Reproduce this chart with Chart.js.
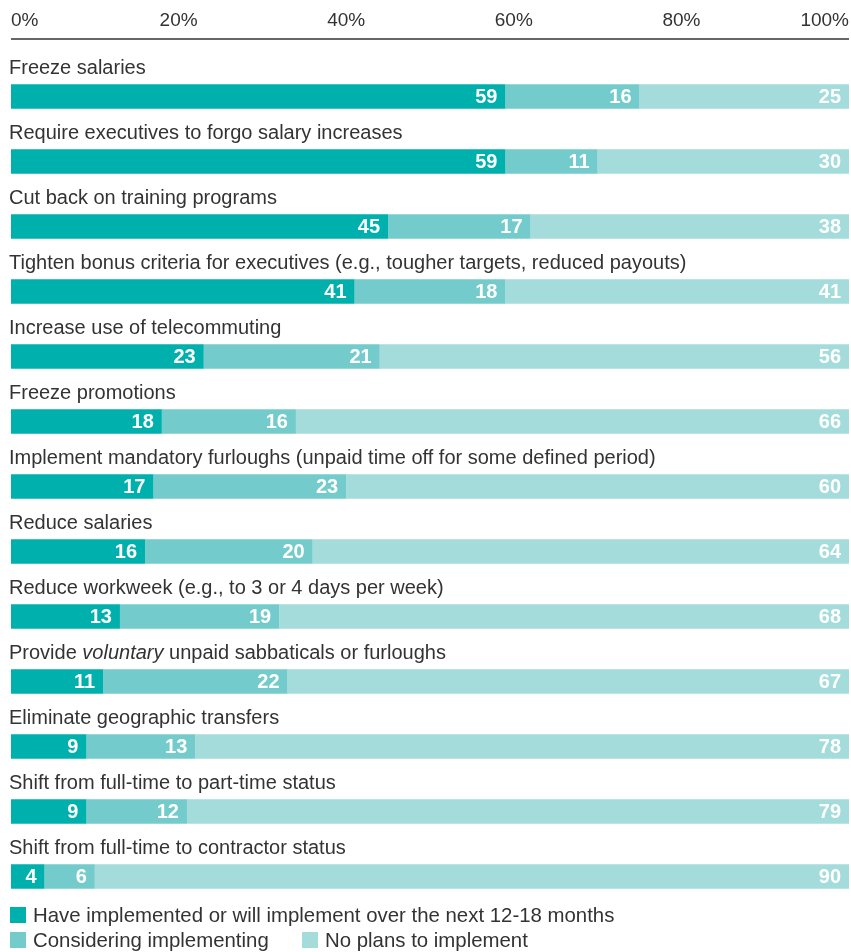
<!DOCTYPE html>
<html>
<head>
<meta charset="utf-8">
<script src="https://cdn.jsdelivr.net/npm/chart.js@4.4.0/dist/chart.umd.min.js"></script>
<style>
  html, body { margin: 0; padding: 0; background: #ffffff; }
  #wrap { width: 851px; height: 952px; position: relative; }
</style>
</head>
<body>
<div id="wrap"><canvas id="c" width="851" height="952"></canvas></div>
<script>
// ---- Data ----
const categories = [
  "Freeze salaries",
  "Require executives to forgo salary increases",
  "Cut back on training programs",
  "Tighten bonus criteria for executives (e.g., tougher targets, reduced payouts)",
  "Increase use of telecommuting",
  "Freeze promotions",
  "Implement mandatory furloughs (unpaid time off for some defined period)",
  "Reduce salaries",
  "Reduce workweek (e.g., to 3 or 4 days per week)",
  "Provide *voluntary* unpaid sabbaticals or furloughs",
  "Eliminate geographic transfers",
  "Shift from full-time to part-time status",
  "Shift from full-time to contractor status"
];
const seriesNames = [
  "Have implemented or will implement over the next 12-18 months",
  "Considering implementing",
  "No plans to implement"
];
const implemented = [59, 59, 45, 41, 23, 18, 17, 16, 13, 11, 9, 9, 4];
const considering = [16, 11, 17, 18, 21, 16, 23, 20, 19, 22, 13, 12, 6];
const noPlans     = [25, 30, 38, 41, 56, 66, 60, 64, 68, 67, 78, 79, 90];
const tickValues  = [0, 20, 40, 60, 80, 100];

const colors = ["#00b0ac", "#74cbcb", "#a4dcdb"];
const FONT = "'Liberation Sans', Arial, sans-serif";

// Category labels above bars (supports *italic* segments)
const categoryLabelPlugin = {
  id: 'catLabels',
  afterDatasetsDraw(chart) {
    const ctx = chart.ctx;
    const meta = chart.getDatasetMeta(0);
    ctx.save();
    ctx.fillStyle = '#333333';
    ctx.textBaseline = 'alphabetic';
    ctx.textAlign = 'left';
    meta.data.forEach((bar, i) => {
      const top = bar.y - bar.height / 2;
      let x = chart.chartArea.left - 2;
      const y = top - 10;
      const parts = categories[i].split('*');
      parts.forEach((p, k) => {
        ctx.font = (k % 2 === 1 ? 'italic ' : '') + '20px ' + FONT;
        ctx.fillText(p, x, y);
        x += ctx.measureText(p).width;
      });
    });
    ctx.restore();
  }
};

// Value labels inside segments
const valueLabelPlugin = {
  id: 'valLabels',
  afterDatasetsDraw(chart) {
    const ctx = chart.ctx;
    ctx.save();
    ctx.fillStyle = '#ffffff';
    ctx.font = 'bold 20px ' + FONT;
    ctx.textAlign = 'right';
    ctx.textBaseline = 'middle';
    chart.data.datasets.forEach((ds, di) => {
      const meta = chart.getDatasetMeta(di);
      meta.data.forEach((bar, i) => {
        ctx.fillText(String(ds.data[i]), bar.x - 8, bar.y + 1);
      });
    });
    ctx.restore();
  }
};

// Top axis rule
const axisLinePlugin = {
  id: 'axisLine',
  afterDraw(chart) {
    const ctx = chart.ctx;
    const xs = chart.scales.x;
    ctx.save();
    ctx.strokeStyle = '#666666';
    ctx.lineWidth = 2;
    ctx.beginPath();
    const y = xs.bottom - 25;
    ctx.moveTo(xs.left, y);
    ctx.lineTo(xs.right, y);
    ctx.stroke();
    ctx.restore();
  }
};

// Custom legend
const legendPlugin = {
  id: 'customLegend',
  afterDraw(chart) {
    const ctx = chart.ctx;
    const left = chart.chartArea.left - 1;
    const base = chart.chartArea.bottom;
    const positions = [
      { x: left, y: base + 6 },
      { x: left, y: base + 31 },
      { x: left + 292, y: base + 31 }
    ];
    ctx.save();
    ctx.font = '20.4px ' + FONT;
    ctx.textBaseline = 'middle';
    ctx.textAlign = 'left';
    chart.data.datasets.forEach((ds, di) => {
      const p = positions[di];
      ctx.fillStyle = ds.backgroundColor;
      ctx.fillRect(p.x, p.y - 8, 16, 16);
      ctx.fillStyle = '#333333';
      ctx.fillText(ds.label, p.x + 23, p.y + 1);
    });
    ctx.restore();
  }
};

new Chart(document.getElementById('c'), {
  type: 'bar',
  data: {
    labels: categories.map(s => s.replace(/\*/g, '')),
    datasets: [
      { label: seriesNames[0], data: implemented, backgroundColor: colors[0] },
      { label: seriesNames[1], data: considering, backgroundColor: colors[1] },
      { label: seriesNames[2], data: noPlans, backgroundColor: colors[2] }
    ]
  },
  options: {
    indexAxis: 'y',
    responsive: false,
    animation: false,
    layout: { padding: { left: 11, right: 2, top: 0, bottom: 43 } },
    datasets: { bar: { categoryPercentage: 1, barPercentage: 24.5 / 65, borderWidth: 0 } },
    plugins: { legend: { display: false }, tooltip: { enabled: false } },
    scales: {
      x: {
        position: 'top',
        stacked: true,
        min: 0, max: 100,
        afterBuildTicks(scale) { scale.ticks = tickValues.map(v => ({ value: v })); },
        ticks: {
          align: 'inner',
          padding: 32,
          color: '#333333',
          font: { family: FONT, size: 19 },
          callback: v => v + '%'
        },
        grid: { display: false, drawTicks: false },
        border: { display: false },
        afterFit(scale) {
          scale.height = 64;
          scale.paddingLeft = 0;
          scale.paddingRight = 0;
        }
      },
      y: {
        stacked: true,
        display: false
      }
    }
  },
  plugins: [categoryLabelPlugin, valueLabelPlugin, axisLinePlugin, legendPlugin]
});
</script>
</body>
</html>
